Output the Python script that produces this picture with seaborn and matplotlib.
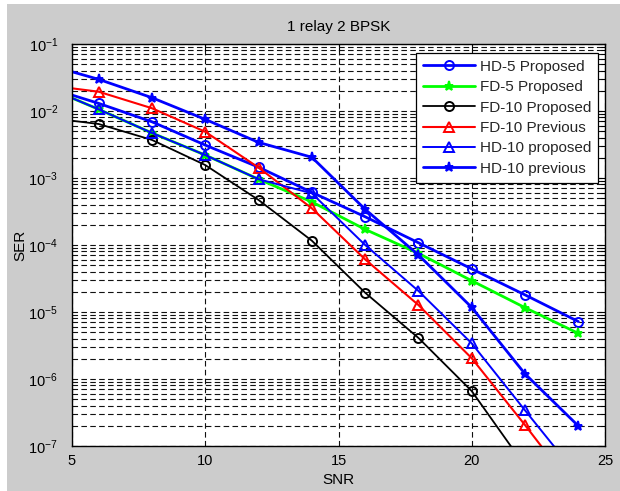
import matplotlib
matplotlib.use("Agg")
import matplotlib.pyplot as plt
import seaborn as sns
import numpy as np
import pandas as pd
from matplotlib.patches import Rectangle
from matplotlib.ticker import NullFormatter, FixedLocator, LogFormatterSciNotation

# ---- data ----
snr = [4, 6, 8, 10, 12, 14, 16, 18, 20, 22, 24]
hd5_proposed = [2.3e-2, 1.30e-2, 6.9e-3, 3.1e-3, 1.45e-3, 6.1e-4, 2.64e-4, 1.08e-4, 4.4e-5, 1.8e-5, 7.2e-6]
fd5_proposed = [2.3e-2, 1.06e-2, 4.7e-3, 2.2e-3, 9.6e-4, 4.4e-4, 1.71e-4, 7.5e-5, 2.93e-5, 1.16e-5, 4.8e-6]
fd10_proposed = [8.0e-3, 6.4e-3, 3.7e-3, 1.56e-3, 4.7e-4, 1.16e-4, 1.94e-5, 4.1e-6, 6.6e-7, 5.0e-8, 4.0e-9]
fd10_previous = [2.45e-2, 1.94e-2, 1.10e-2, 4.9e-3, 1.43e-3, 3.53e-4, 6.1e-5, 1.27e-5, 2.04e-6, 2.05e-7, 1.9e-8]
hd10_proposed = [2.3e-2, 1.06e-2, 4.7e-3, 2.2e-3, 9.6e-4, 5.9e-4, 1.0e-4, 2.06e-5, 3.4e-6, 3.4e-7, 3.5e-8]
hd10_previous = [5.0e-2, 2.97e-2, 1.58e-2, 7.5e-3, 3.4e-3, 2.04e-3, 3.41e-4, 7.1e-5, 1.17e-5, 1.19e-6, 1.99e-7]

x_ticks = [5, 10, 15, 20, 25]
decades = [-7, -6, -5, -4, -3, -2, -1]

labels = ["HD-5 Proposed", "FD-5 Proposed", "FD-10 Proposed",
          "FD-10 Previous", "HD-10 proposed", "HD-10 previous"]
series = [hd5_proposed, fd5_proposed, fd10_proposed,
          fd10_previous, hd10_proposed, hd10_previous]
colors = ["#0000ff", "#00ff00", "#000000", "#ff0000", "#0000ff", "#0000ff"]
markers = ["o", "*", "o", "^", "^", "*"]
msizes = [6.5, 6.5, 6.5, 7, 7, 6.5]
lwidths = [2.0, 2.0, 1.3, 1.5, 1.4, 2.0]
mfcs = ["none", None, "none", "none", "none", None]

sns.set_style("white")
plt.rcParams["font.family"] = ["Liberation Sans", "DejaVu Sans"]
plt.rcParams["mathtext.default"] = "regular"

fig = plt.figure(figsize=(6.2, 4.91), dpi=100, facecolor="#cccccc")
# screenshot border artefacts
fig.patches.append(Rectangle((0, 0), 7 / 620, 1, transform=fig.transFigure,
                             facecolor="white", edgecolor="none", zorder=-1))
fig.patches.append(Rectangle((0, 1 - 4 / 491), 1, 4 / 491, transform=fig.transFigure,
                             facecolor="white", edgecolor="none", zorder=-1))

ax = fig.add_axes([72 / 620, 45 / 491, 533 / 620, 402 / 491])
ax.set_facecolor("white")

for lab, vals, c, m, ms, lw, mfc in zip(labels, series, colors, markers, msizes, lwidths, mfcs):
    df = pd.DataFrame({"SNR": snr, "SER": vals})
    kw = dict(marker=m, markersize=ms, markeredgecolor=c, markeredgewidth=1.4)
    kw["markerfacecolor"] = mfc if mfc is not None else c
    sns.lineplot(data=df, x="SNR", y="SER", ax=ax, color=c, linewidth=lw,
                 label=lab, sort=False, estimator=None, **kw)

ax.set_yscale("log")
ax.set_xlim(5, 25)
ax.set_ylim(1e-7, 1e-1)
ax.xaxis.set_major_locator(FixedLocator(x_ticks))
major_y = [10.0 ** d for d in decades]
minor_y = [k * 10.0 ** d for d in decades[:-1] for k in range(2, 10)]
ax.yaxis.set_major_locator(FixedLocator(major_y))
ax.yaxis.set_major_formatter(LogFormatterSciNotation())
ax.yaxis.set_minor_locator(FixedLocator(minor_y))
ax.yaxis.set_minor_formatter(NullFormatter())

grid_kw = dict(color="#111111", linestyle=(0, (5, 3)), linewidth=0.8)
ax.grid(True, which="major", axis="both", **grid_kw)
ax.grid(True, which="minor", axis="y", **grid_kw)
ax.set_axisbelow(True)

ax.tick_params(which="both", direction="in", top=True, right=True, colors="black",
               labelsize=10.5)
ax.tick_params(which="major", length=5, width=0.8)
ax.tick_params(which="minor", length=3, width=0.8)
ax.tick_params(axis="y", pad=10)
ax.tick_params(axis="x", pad=6)
for s in ax.spines.values():
    s.set_visible(True)
    s.set_color("black")
    s.set_linewidth(1.0)

ax.set_title("1 relay 2 BPSK", fontsize=11, pad=9, color="black")
ax.set_xlabel("SNR", fontsize=11, labelpad=3, color="black")
ax.set_ylabel("SER", fontsize=11, labelpad=1, color="black")

leg = ax.legend(loc="upper right", bbox_to_anchor=(0.987, 0.978), fontsize=11,
                frameon=True, fancybox=False, framealpha=1, edgecolor="black",
                handlelength=3.4, handletextpad=0.3, labelspacing=0.42,
                borderpad=0.45, borderaxespad=0)
leg.get_frame().set_linewidth(0.9)

fig.savefig("out.png", dpi=100, facecolor=fig.get_facecolor())
